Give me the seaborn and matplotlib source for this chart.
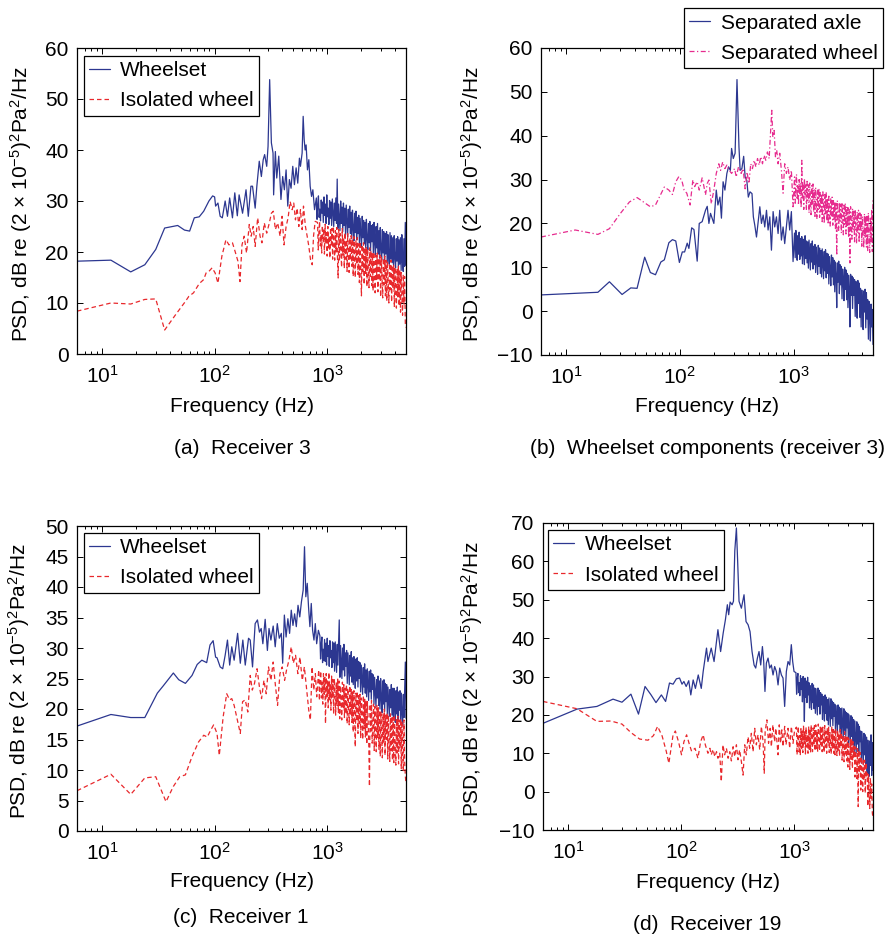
import numpy as np
import pandas as pd
import matplotlib
matplotlib.use("Agg")
import matplotlib.pyplot as plt
from matplotlib.ticker import LogLocator, NullFormatter
import seaborn as sns

sns.set_style("ticks")
plt.rcParams.update({
    "font.family": ["Liberation Sans", "DejaVu Sans"],
    "mathtext.fontset": "custom",
    "mathtext.rm": "Liberation Sans",
    "mathtext.it": "Liberation Sans:italic",
    "mathtext.bf": "Liberation Sans:bold",
    "mathtext.default": "regular",
    "font.size": 15,
    "axes.linewidth": 0.9,
    "axes.edgecolor": "black",
    "axes.labelcolor": "black",
    "text.color": "black",
    "xtick.color": "black",
    "ytick.color": "black",
})

F_MAX = 5000.0

# ---------------------------------------------------------------------------
# (a) Receiver 3 -- resolved low-frequency bins, then the dense upper band
#     (band values listed in rows of ten, equally spaced in log frequency)
# ---------------------------------------------------------------------------
A_WS_F = [6, 12, 18, 24, 30, 36, 47, 54, 60, 66,
          73, 80, 89, 96, 100, 102, 107, 112, 117, 124,
          130, 136, 144, 151, 159, 165, 177, 190, 199, 210,
          217, 229, 237, 249, 260, 270, 278, 290, 298, 308,
          319, 330, 334, 346, 356, 371, 388, 402, 416, 431,
          446, 461, 477, 494, 511, 529, 547, 566, 578, 598,
          611, 624, 636, 649, 667, 686, 705, 725, 745, 771]
A_WS_V = [18.2, 18.4, 16.1, 17.5, 20.5, 24.7, 25.2, 24.3, 24.1, 26.7,
          26.9, 28.0, 30.0, 31.0, 30.8, 29.0, 29.6, 27.0, 26.7, 30.0,
          27.0, 30.6, 26.7, 31.6, 27.1, 31.2, 27.6, 32.2, 27.0, 32.9,
          32.9, 28.6, 32.9, 37.8, 34.8, 38.1, 39.1, 36.8, 40.7, 53.8,
          41.4, 39.4, 31.2, 39.7, 34.5, 38.8, 30.3, 34.8, 32.2, 36.1,
          29.0, 34.2, 32.5, 36.8, 33.2, 36.5, 33.5, 38.4, 36.8, 39.4,
          46.6, 42.0, 40.0, 41.0, 36.1, 38.1, 32.9, 30.9, 32.2, 28.3]
A_WS_BAND_START = 800
A_WS_BAND = [30.6, 26.4, 29.2, 31.0, 26.8, 28.4, 26.1, 30.2, 27.6, 29.8,
             25.8, 30.8, 27.2, 29.4, 25.6, 31.2, 26.9, 28.6, 25.4, 30.1,
             26.6, 29.8, 25.2, 30.4, 27.8, 25.0, 29.6, 26.2, 30.6, 25.6,
             34.3, 24.6, 29.4, 26.8, 24.2, 30.0, 25.6, 28.8, 24.0, 29.6,
             25.2, 28.6, 23.4, 29.2, 26.0, 23.0, 28.4, 24.8, 29.0, 23.6,
             27.8, 22.6, 28.2, 24.6, 22.2, 27.6, 23.8, 28.0, 22.4, 26.8,
             23.6, 27.2, 21.4, 26.6, 24.0, 21.0, 27.0, 22.8, 26.2, 21.6,
             25.8, 20.8, 26.4, 22.6, 20.4, 25.6, 21.8, 26.0, 20.2, 25.2,
             22.0, 25.4, 19.8, 25.8, 21.6, 19.4, 25.0, 20.8, 25.6, 19.6,
             24.2, 18.8, 24.8, 20.6, 18.4, 24.4, 19.8, 24.0, 18.2, 23.6,
             19.6, 24.0, 17.8, 23.4, 19.2, 17.6, 23.8, 18.6, 23.2, 17.9,
             22.8, 17.4, 23.2, 18.6, 16.9, 22.6, 18.2, 23.0, 16.8, 22.4,
             17.6, 22.8, 16.4, 23.4, 18.0, 16.2, 22.6, 17.2, 25.8, 17.4]

A_IW_F = [6, 12, 18, 24, 30, 36, 45, 55, 59, 65,
          73, 80, 84, 89, 95, 101, 107, 116, 126, 134,
          144, 152, 161, 168, 175, 183, 192, 203, 211, 220,
          229, 241, 253, 263, 276, 290, 306, 319, 332, 346,
          363, 381, 397, 413, 431, 449, 468, 488, 504, 522,
          540, 559, 578, 598, 615, 640, 663, 686, 710, 735,
          755, 781]
A_IW_V = [8.4, 10.0, 9.8, 10.7, 10.8, 4.7, 7.7, 10.3, 11.3, 12.0,
          13.8, 14.6, 15.9, 16.2, 16.9, 15.9, 13.9, 19.2, 22.4, 21.4,
          21.8, 20.1, 18.2, 14.2, 21.4, 23.1, 19.8, 25.4, 23.1, 25.0,
          21.1, 26.7, 23.1, 21.8, 25.7, 23.7, 25.7, 27.6, 28.0, 24.4,
          25.7, 23.1, 27.0, 21.4, 25.0, 26.7, 29.9, 28.3, 29.6, 26.3,
          28.6, 25.0, 28.3, 24.4, 29.0, 25.0, 23.1, 21.1, 18.5, 17.5,
          23.1, 26.0]
A_IW_BAND_START = 820
A_IW_BAND = [25.8, 20.4, 24.2, 26.0, 21.2, 23.4, 19.8, 25.2, 22.0, 24.6,
             19.6, 25.4, 21.6, 23.8, 19.2, 25.0, 20.8, 23.2, 18.8, 24.8,
             21.4, 24.6, 18.6, 25.0, 22.2, 18.4, 24.2, 20.0, 24.8, 19.0,
             14.9, 24.4, 18.2, 23.6, 21.0, 17.0, 24.6, 19.4, 22.8, 16.8,
             23.8, 18.6, 22.4, 16.2, 23.6, 20.2, 16.0, 22.8, 18.4, 23.2,
             17.2, 22.6, 15.2, 23.0, 19.4, 15.0, 22.2, 17.6, 22.8, 15.6,
             21.6, 14.0, 22.0, 17.4, 11.4, 21.4, 16.2, 21.8, 13.6, 20.8,
             15.8, 21.0, 13.2, 20.6, 17.0, 13.0, 20.8, 15.2, 20.2, 13.4,
             19.8, 12.4, 20.0, 15.8, 12.0, 19.4, 14.6, 19.8, 12.2, 18.8,
             14.4, 19.4, 11.2, 19.0, 15.0, 11.0, 18.8, 13.6, 19.2, 11.4,
             18.4, 10.4, 18.2, 13.8, 10.0, 17.8, 12.6, 18.4, 10.2, 17.4,
             12.8, 17.4, 9.2, 17.0, 12.0, 9.0, 16.8, 11.2, 17.2, 9.4,
             16.4, 8.2, 16.0, 11.0, 7.6, 15.6, 9.8, 15.2, 6.0, 5.2]

# ---------------------------------------------------------------------------
# (b) Wheelset components at receiver 3
# ---------------------------------------------------------------------------
B_AX_F = [6, 19, 24, 31, 37, 42, 49, 55, 61, 68,
          73, 80, 86, 92, 99, 105, 110, 116, 120, 127,
          133, 142, 148, 157, 168, 174, 180, 186, 199, 209,
          216, 225, 232, 240, 249, 259, 268, 278, 285, 295,
          306, 318, 331, 339, 351, 364, 375, 388, 400, 414,
          431, 443, 456, 472, 488, 505, 522, 540, 558, 578,
          597, 618, 639, 661, 683, 707, 731, 756, 782, 809,
          836, 865, 894, 925, 957, 990]
B_AX_V = [3.7, 4.3, 6.7, 3.8, 5.3, 5.2, 12.3, 8.8, 8.3, 11.2,
          11.7, 15.6, 16.3, 16.0, 11.1, 13.5, 13.5, 15.5, 14.3, 19.0,
          18.6, 11.4, 20.0, 20.4, 23.0, 23.9, 20.0, 22.3, 20.0, 27.6,
          24.2, 26.0, 21.2, 29.5, 27.6, 31.4, 32.9, 32.1, 37.1, 34.8,
          36.0, 52.8, 37.4, 32.1, 32.5, 35.3, 30.6, 29.8, 26.0, 27.2,
          26.8, 21.5, 19.6, 16.9, 20.4, 23.8, 20.0, 21.9, 19.2, 23.0,
          18.5, 21.5, 13.9, 22.7, 19.2, 21.5, 17.7, 23.0, 16.2, 19.2,
          15.4, 19.2, 23.0, 18.5, 22.7, 11.3]
B_AX_BAND_START = 1020
B_AX_BAND = [17.8, 12.2, 18.4, 14.6, 11.6, 17.2, 13.0, 18.0, 11.8, 16.6,
             12.6, 17.0, 10.8, 16.4, 13.8, 10.6, 17.2, 12.0, 16.0, 11.0,
             15.8, 9.8, 16.2, 12.6, 9.4, 15.4, 11.2, 16.0, 9.6, 14.8,
             10.6, 15.2, 8.8, 14.6, 11.8, 8.4, 15.0, 10.2, 14.4, 8.6,
             13.8, 7.8, 14.2, 10.6, 7.4, 13.6, 9.2, 14.0, 7.6, 13.2,
             8.6, 13.0, 6.2, 12.4, 9.8, 5.8, 12.8, 7.8, 12.2, 6.0,
             11.6, 4.4, 11.2, 8.2, 0.8, 11.0, 6.6, 11.4, 4.0, 10.6,
             6.0, 10.2, 2.8, 9.6, 7.0, 2.4, 10.0, 5.0, 9.4, 2.6,
             8.6, 0.8, 8.2, 5.2, -3.6, 8.4, 3.6, 8.0, 0.6, 7.6,
             3.6, 7.2, -1.2, 6.8, 4.0, -1.6, 7.0, 1.8, 6.4, -1.4,
             5.2, -3.6, 4.8, 1.6, -4.2, 4.6, -0.2, 5.0, -3.8, 4.2,
             -1.8, 2.6, -6.4, 2.2, -0.8, -6.8, 1.6, -3.6, 0.4, -7.6]

B_WH_F = [6, 12, 19, 24, 30, 36, 42, 55, 61, 73,
          80, 86, 92, 98, 104, 109, 115, 123, 130, 135,
          142, 148, 157, 162, 168, 174, 180, 189, 199, 209,
          220, 228, 238, 249, 259, 272, 285, 303, 313, 328,
          346, 360, 375, 390, 405, 420, 435, 450, 466, 482,
          498, 515, 533, 551, 570, 589, 610, 630, 643, 657,
          675, 693, 711, 731, 756, 782, 809, 836, 865, 894,
          925, 957, 990]
B_WH_V = [16.9, 18.5, 17.5, 18.8, 22.3, 24.9, 25.9, 23.8, 24.2, 28.3,
          27.6, 26.6, 29.5, 30.7, 29.8, 27.6, 26.9, 24.2, 29.9, 28.4,
          29.5, 27.6, 30.4, 28.7, 26.5, 29.1, 29.9, 24.5, 27.6, 31.4,
          33.6, 32.1, 34.0, 32.5, 33.3, 32.1, 31.4, 32.5, 30.6, 32.9,
          31.4, 32.5, 27.9, 31.7, 29.1, 33.6, 32.5, 34.4, 32.9, 34.8,
          33.3, 35.2, 33.6, 35.5, 34.4, 36.3, 34.8, 41.6, 45.8, 39.7,
          41.2, 35.2, 36.7, 33.6, 36.0, 32.1, 26.9, 33.6, 31.4, 32.9,
          29.9, 32.1, 23.8]
B_WH_BAND_START = 1020
B_WH_BAND = [30.6, 24.6, 29.4, 31.2, 25.4, 28.6, 24.2, 30.0, 26.4, 29.2,
             23.6, 34.4, 25.8, 29.4, 23.2, 30.2, 26.6, 28.8, 23.0, 29.6,
             25.2, 28.8, 22.4, 29.2, 26.0, 22.0, 28.6, 24.4, 29.0, 22.6,
             27.8, 21.6, 28.2, 24.8, 21.0, 27.6, 23.2, 28.0, 21.4, 27.2,
             22.6, 26.8, 20.4, 27.2, 24.0, 20.0, 26.6, 22.2, 27.0, 20.6,
             25.8, 19.8, 26.2, 23.0, 19.4, 25.6, 21.6, 26.0, 19.6, 25.2,
             21.0, 25.0, 18.8, 24.6, 12.7, 25.2, 22.0, 18.4, 24.8, 20.4,
             24.4, 17.8, 24.8, 21.4, 17.4, 24.2, 19.8, 24.6, 17.6, 23.8,
             19.2, 23.6, 16.8, 23.2, 11.0, 23.8, 20.4, 16.4, 23.4, 18.6,
             22.8, 15.8, 23.2, 19.6, 15.4, 22.6, 17.8, 23.0, 15.6, 22.4,
             18.2, 22.0, 14.8, 21.6, 17.6, 14.4, 22.2, 16.6, 21.8, 14.6,
             21.6, 13.8, 22.4, 17.4, 13.4, 21.2, 15.6, 23.2, 13.6, 25.4]

# ---------------------------------------------------------------------------
# (c) Receiver 1
# ---------------------------------------------------------------------------
C_WS_F = [6, 12, 18, 24, 31, 35, 43, 48, 55, 63,
          70, 77, 85, 91, 97, 102, 105, 112, 118, 124,
          130, 136, 142, 149, 160, 169, 178, 187, 200, 207,
          217, 229, 240, 250, 259, 268, 281, 294, 304, 316,
          331, 345, 360, 375, 391, 402, 416, 431, 447, 463,
          479, 496, 513, 531, 550, 570, 590, 611, 628, 645,
          664, 682, 701, 721, 741, 762, 783, 805, 834]
C_WS_V = [17.2, 19.1, 18.6, 18.6, 22.6, 23.8, 25.9, 24.8, 24.2, 25.5,
          27.3, 28.0, 27.6, 30.5, 31.2, 28.5, 28.4, 26.9, 26.6, 28.8,
          31.3, 27.2, 30.2, 28.0, 32.4, 27.5, 31.3, 27.2, 31.6, 31.3,
          26.9, 34.0, 34.6, 32.6, 33.2, 30.7, 34.7, 29.6, 33.2, 31.3,
          33.6, 30.2, 34.0, 31.6, 32.4, 27.5, 35.4, 31.8, 34.8, 32.4,
          36.2, 33.7, 35.6, 33.5, 37.0, 35.1, 37.6, 39.5, 46.6, 38.4,
          40.6, 36.7, 33.5, 37.3, 32.9, 31.3, 34.0, 30.7, 32.9]
C_WS_BAND_START = 860
C_WS_BAND = [32.0, 28.2, 30.6, 31.8, 27.6, 29.8, 28.0, 31.4, 27.8, 30.8,
             27.2, 31.6, 28.6, 30.4, 27.0, 31.2, 28.4, 29.6, 26.8, 31.0,
             27.6, 30.8, 26.2, 31.0, 28.4, 26.0, 30.6, 27.2, 31.2, 34.6,
             25.2, 30.4, 27.6, 25.0, 30.0, 26.4, 30.6, 25.4, 29.2, 27.0,
             29.6, 24.2, 29.2, 26.4, 24.0, 28.8, 25.4, 29.4, 24.4, 28.4,
             24.0, 28.6, 25.6, 23.4, 28.2, 24.6, 28.4, 23.6, 27.8, 25.0,
             27.6, 22.8, 27.2, 24.6, 22.4, 26.8, 23.6, 27.4, 22.6, 26.4,
             22.0, 26.6, 23.8, 21.4, 26.2, 22.8, 26.4, 21.6, 25.8, 23.2,
             25.6, 20.8, 25.2, 22.6, 20.4, 24.8, 21.8, 25.4, 20.6, 24.6,
             20.0, 25.0, 21.8, 19.4, 24.6, 20.8, 24.8, 19.6, 24.2, 21.2,
             24.0, 19.2, 23.6, 21.0, 18.8, 23.2, 20.2, 24.0, 19.0, 23.4,
             18.4, 23.4, 20.2, 17.8, 23.0, 19.2, 23.6, 18.0, 22.8, 19.8,
             23.0, 17.6, 22.6, 19.4, 17.2, 22.4, 18.6, 23.0, 27.7, 18.5]

C_IW_F = [6, 12, 18, 24, 30, 37, 43, 49, 55, 63,
          72, 80, 86, 92, 98, 105, 110, 119, 128, 136,
          142, 149, 157, 169, 177, 187, 197, 207, 216, 226,
          238, 250, 261, 274, 287, 301, 316, 331, 345, 362,
          380, 398, 418, 435, 457, 479, 499, 523, 548, 572,
          600, 626, 657, 685, 708, 733, 758, 784, 806]
C_IW_V = [6.6, 9.3, 6.0, 8.7, 8.9, 4.8, 7.3, 8.9, 9.2, 12.2,
          14.6, 15.7, 15.4, 16.5, 17.4, 16.0, 12.4, 18.7, 22.5, 21.5,
          21.7, 20.6, 18.7, 16.0, 21.2, 21.5, 19.5, 25.5, 23.1, 24.2,
          26.6, 23.6, 21.7, 24.7, 22.5, 26.9, 24.7, 27.7, 24.2, 20.6,
          25.8, 26.9, 24.7, 26.4, 28.0, 30.2, 27.5, 28.8, 25.8, 28.5,
          24.7, 26.9, 23.1, 19.8, 18.2, 26.9, 23.1, 25.8, 22.0]
C_IW_BAND_START = 840
C_IW_BAND = [26.4, 21.4, 25.0, 26.2, 21.8, 24.4, 20.8, 25.8, 22.4, 25.2,
             17.6, 25.8, 22.0, 24.6, 20.2, 26.0, 21.4, 24.2, 19.8, 25.4,
             21.8, 24.8, 19.2, 25.0, 22.6, 19.0, 24.4, 20.6, 24.9, 19.4,
             24.6, 18.4, 23.8, 21.6, 18.2, 24.4, 20.0, 24.0, 18.6, 23.4,
             19.2, 24.0, 17.6, 23.4, 21.0, 17.4, 23.8, 19.0, 23.2, 17.8,
             22.8, 16.2, 23.0, 19.6, 13.8, 22.6, 18.0, 22.9, 16.0, 22.2,
             17.6, 22.4, 15.2, 21.8, 19.0, 15.0, 22.2, 16.8, 21.6, 15.4,
             21.4, 14.2, 21.2, 18.0, 14.0, 7.3, 20.8, 16.4, 21.4, 14.4,
             17.4, 20.8, 13.2, 20.4, 16.6, 13.0, 20.6, 15.2, 20.2, 13.4,
             19.8, 12.2, 19.6, 15.8, 12.0, 19.2, 14.4, 20.0, 12.4, 19.0,
             15.0, 19.4, 11.8, 19.0, 14.6, 11.4, 19.2, 13.2, 18.8, 11.6,
             18.6, 11.2, 19.0, 14.2, 10.8, 18.4, 12.8, 18.8, 11.0, 18.2,
             13.6, 18.4, 10.2, 18.0, 13.0, 9.8, 18.2, 11.4, 9.0, 7.8]

# ---------------------------------------------------------------------------
# (d) Receiver 19
# ---------------------------------------------------------------------------
D_WS_F = [6, 12, 18, 25, 30, 36, 42, 48, 54, 60,
          67, 73, 79, 85, 91, 97, 102, 106, 111, 117,
          122, 128, 134, 142, 151, 157, 168, 173, 185, 196,
          212, 224, 236, 247, 257, 264, 272, 283, 291, 299,
          309, 317, 326, 342, 361, 376, 392, 408, 425, 443,
          458, 474, 490, 507, 525, 539, 553, 569, 589, 609,
          630, 652, 674, 698, 722, 747, 773, 799, 826, 855,
          885, 916, 946, 973, 1000]
D_WS_V = [17.8, 21.5, 22.2, 24.1, 23.3, 25.4, 20.2, 27.4, 25.3, 23.2,
          25.2, 23.5, 28.3, 28.0, 29.4, 29.6, 28.0, 28.7, 27.4, 28.9,
          25.2, 29.1, 26.9, 30.4, 26.9, 31.3, 37.4, 33.9, 37.4, 33.9,
          42.2, 36.5, 41.3, 44.8, 48.7, 46.1, 49.4, 48.7, 49.6, 62.7,
          68.7, 60.0, 49.6, 47.8, 51.3, 44.3, 43.5, 41.7, 36.5, 33.0,
          32.2, 34.8, 36.5, 33.0, 37.8, 33.9, 26.1, 33.5, 34.8, 32.2,
          33.0, 30.4, 32.6, 31.3, 27.8, 32.2, 30.4, 29.6, 22.2, 31.3,
          33.9, 33.0, 38.3, 33.9, 31.3]
D_WS_BAND_START = 1040
D_WS_BAND = [31.0, 25.4, 29.6, 30.8, 25.8, 28.4, 25.0, 30.2, 26.6, 29.4,
             23.4, 30.0, 26.2, 18.3, 29.6, 24.6, 28.8, 23.2, 29.8, 25.2,
             28.4, 21.8, 27.6, 24.8, 21.4, 28.2, 23.2, 27.8, 21.6, 27.0,
             20.4, 26.8, 23.4, 20.0, 27.0, 22.2, 26.4, 20.2, 25.8, 22.6,
             25.4, 18.8, 24.8, 22.0, 18.4, 25.2, 20.4, 24.6, 18.6, 24.0,
             17.4, 24.4, 20.6, 17.0, 24.2, 19.0, 23.6, 17.2, 23.2, 19.6,
             22.8, 15.8, 22.4, 19.0, 15.4, 22.6, 17.6, 22.0, 15.6, 21.6,
             14.2, 21.8, 17.8, 14.0, 21.6, 16.0, 21.0, 14.4, 20.6, 16.6,
             20.4, 12.4, 20.0, 16.2, 12.0, 19.8, 14.4, 19.4, 12.2, 18.8,
             10.4, 18.4, 14.2, 10.0, 18.2, 12.4, 17.6, 10.2, 17.0, 13.0,
             15.8, 7.4, 15.6, 11.6, 7.0, 15.2, 9.6, 14.8, 7.2, 14.2,
             4.6, 13.4, 9.2, 4.0, 13.2, 6.8, 14.8, 4.2, 12.8, 5.6]

D_IW_F = [6, 12, 18, 24, 30, 36, 43, 51, 57, 62,
          68, 74, 78, 85, 89, 95, 101, 106, 112, 118,
          124, 133, 141, 149, 157, 164, 173, 180, 185, 192,
          199, 206, 212, 220, 227, 235, 243, 252, 261, 270,
          279, 289, 299, 309, 319, 330, 342, 354, 366, 378,
          392, 405, 419, 434, 449, 464, 480, 497, 514, 532,
          545, 555, 575, 595, 615, 630, 650, 674, 690, 722,
          740, 760, 780, 800, 826, 850, 885, 915, 947, 980,
          1013]
D_IW_V = [23.5, 21.6, 18.3, 18.4, 17.6, 15.4, 13.7, 13.4, 14.6, 17.0,
          14.5, 10.5, 7.4, 14.8, 15.8, 13.0, 9.6, 13.0, 14.8, 12.5,
          10.5, 11.3, 8.7, 13.0, 14.8, 12.2, 10.0, 11.3, 9.6, 11.0,
          9.1, 10.4, 8.7, 10.0, 2.6, 12.2, 9.6, 11.3, 8.7, 10.4,
          8.0, 11.7, 9.1, 12.2, 8.3, 10.9, 7.8, 4.3, 12.2, 9.6,
          14.3, 11.3, 15.2, 10.4, 16.5, 12.2, 14.8, 10.9, 17.0, 13.0,
          4.8, 15.6, 18.7, 12.6, 16.5, 11.7, 17.4, 13.0, 16.5, 9.6,
          17.4, 12.6, 16.1, 11.7, 17.0, 12.2, 16.5, 11.3, 17.0, 12.6,
          16.1]
D_IW_BAND_START = 1050
D_IW_BAND = [16.8, 9.6, 15.2, 17.0, 10.4, 14.6, 9.4, 16.4, 11.2, 15.8,
             10.2, 17.2, 12.4, 15.6, 9.8, 16.8, 11.6, 14.8, 10.0, 17.0,
             11.0, 16.4, 10.2, 17.4, 13.2, 10.4, 16.6, 12.0, 17.2, 10.6,
             17.4, 11.2, 15.8, 10.4, 17.6, 13.6, 10.6, 16.8, 12.2, 17.0,
             10.4, 16.8, 12.8, 10.2, 17.2, 11.6, 15.6, 10.0, 16.6, 12.4,
             16.8, 10.2, 15.4, 12.6, 9.8, 17.0, 11.2, 16.2, 10.0, 15.8,
             9.6, 16.4, 12.0, 9.4, 16.0, 10.8, 15.2, 9.2, 16.2, 11.6,
             15.4, 8.2, 14.8, 11.2, 7.8, 15.6, 9.8, 14.6, 8.0, 14.2,
             6.4, 14.0, 10.2, 5.8, 13.6, 8.4, 13.8, 6.0, 13.0, 8.8,
             11.8, 3.8, 11.6, 7.6, 3.4, 11.2, -3.9, 10.8, 5.0, 10.2,
             0.4, 9.0, 5.2, 0.0, 8.6, 3.0, 8.2, -0.4, 7.6, 3.6,
             4.8, -3.8, 4.4, 0.8, -4.4, 3.6, -1.8, 2.0, -5.6, -7.0]

X_TICKS = [10, 100, 1000]
X_LIM = (6, F_MAX)

BLUE = "#2c3790"
RED = "#e8282c"
PINK = "#e62b8e"
DASHED = (0, (3.6, 2.4))
DASHDOT = (0, (4.0, 2.0, 1.0, 2.0))
LW = 0.9

YLABEL = r"PSD, dB re (2 $\times$ 10$^{-5}$)$^2$Pa$^2$/Hz"


def spectrum(freqs, levels, band_start, band_levels):
    """Resolved bins followed by the dense band, spread evenly in log frequency."""
    assert len(freqs) == len(levels)
    f = np.concatenate([np.asarray(freqs, float),
                        np.geomspace(band_start, F_MAX, len(band_levels))])
    v = np.concatenate([np.asarray(levels, float), np.asarray(band_levels, float)])
    return pd.DataFrame({"freq": f, "level": v})


W, H = 890, 935
fig = plt.figure(figsize=(W / 100, H / 100), dpi=100)
fig.patch.set_facecolor("white")


def add_axes(left, top, right, bottom):
    return fig.add_axes([left / W, 1 - bottom / H, (right - left) / W, (bottom - top) / H])


def draw_panel(ax, series, ylim, ystep, leg_loc, leg_anchor, ylab_x, xlab_y):
    ax.set_xscale("log")
    for df, color, ls, label in series:
        sns.lineplot(data=df, x="freq", y="level", ax=ax, color=color, lw=LW,
                     linestyle=ls, label=label, estimator=None, sort=False,
                     errorbar=None)
    ax.set_xlim(*X_LIM)
    ax.set_ylim(*ylim)
    ax.set_yticks(np.arange(ylim[0], ylim[1] + 0.1, ystep))
    ax.set_xticks(X_TICKS)
    ax.xaxis.set_minor_locator(LogLocator(base=10, subs=np.arange(2, 10)))
    ax.xaxis.set_minor_formatter(NullFormatter())
    ax.tick_params(which="both", direction="in", top=True, right=True,
                   width=0.7, colors="black")
    ax.tick_params(which="major", length=4.5, labelsize=15)
    ax.tick_params(which="minor", length=2.5)
    ax.tick_params(axis="x", which="major", pad=8)
    ax.tick_params(axis="y", which="major", pad=6)
    for sp in ax.spines.values():
        sp.set_visible(True)
        sp.set_color("black")
        sp.set_linewidth(0.9)

    ax.set_ylabel(YLABEL, fontsize=15)
    ax.yaxis.set_label_coords(ylab_x, 0.49)
    ax.set_xlabel("Frequency (Hz)", fontsize=15, va="baseline")
    ax.xaxis.set_label_coords(0.5, xlab_y)

    leg = ax.legend(loc=leg_loc, bbox_to_anchor=leg_anchor, borderaxespad=0,
                    fontsize=15, frameon=True, fancybox=False, framealpha=1,
                    edgecolor="black", handlelength=1.0, handletextpad=0.5,
                    borderpad=0.26, labelspacing=0.53)
    leg.get_frame().set_linewidth(0.9)


ax_a = add_axes(77, 48, 406, 354)
ax_b = add_axes(541, 48, 873, 355)
ax_c = add_axes(77, 526, 406, 831)
ax_d = add_axes(543, 523, 873, 830)

draw_panel(ax_a,
           [(spectrum(A_WS_F, A_WS_V, A_WS_BAND_START, A_WS_BAND), BLUE, "-", "Wheelset"),
            (spectrum(A_IW_F, A_IW_V, A_IW_BAND_START, A_IW_BAND), RED, DASHED, "Isolated wheel")],
           (0, 60), 10, "upper left", (0.02, 0.974), -0.131, -0.1886)

draw_panel(ax_b,
           [(spectrum(B_AX_F, B_AX_V, B_AX_BAND_START, B_AX_BAND), BLUE, "-", "Separated axle"),
            (spectrum(B_WH_F, B_WH_V, B_WH_BAND_START, B_WH_BAND), PINK, DASHDOT, "Separated wheel")],
           (-10, 60), 10, "upper right", (1.03, 1.130), -0.168, -0.1847)

draw_panel(ax_c,
           [(spectrum(C_WS_F, C_WS_V, C_WS_BAND_START, C_WS_BAND), BLUE, "-", "Wheelset"),
            (spectrum(C_IW_F, C_IW_V, C_IW_BAND_START, C_IW_BAND), RED, DASHED, "Isolated wheel")],
           (0, 50), 5, "upper left", (0.02, 0.977), -0.136, -0.1826)

draw_panel(ax_d,
           [(spectrum(D_WS_F, D_WS_V, D_WS_BAND_START, D_WS_BAND), BLUE, "-", "Wheelset"),
            (spectrum(D_IW_F, D_IW_V, D_IW_BAND_START, D_IW_BAND), RED, DASHED, "Isolated wheel")],
           (-10, 70), 10, "upper left", (0.015, 0.977), -0.175, -0.190)

CAPTIONS = [("(a)  Receiver 3", 242, 454),
            ("(b)  Wheelset components (receiver 3)", 707, 454),
            ("(c)  Receiver 1", 241, 923),
            ("(d)  Receiver 19", 707, 930)]
for text, cx, cy in CAPTIONS:
    fig.text(cx / W, 1 - cy / H, text, ha="center", va="baseline", fontsize=15)

fig.savefig("out.png", dpi=100, facecolor="white")
